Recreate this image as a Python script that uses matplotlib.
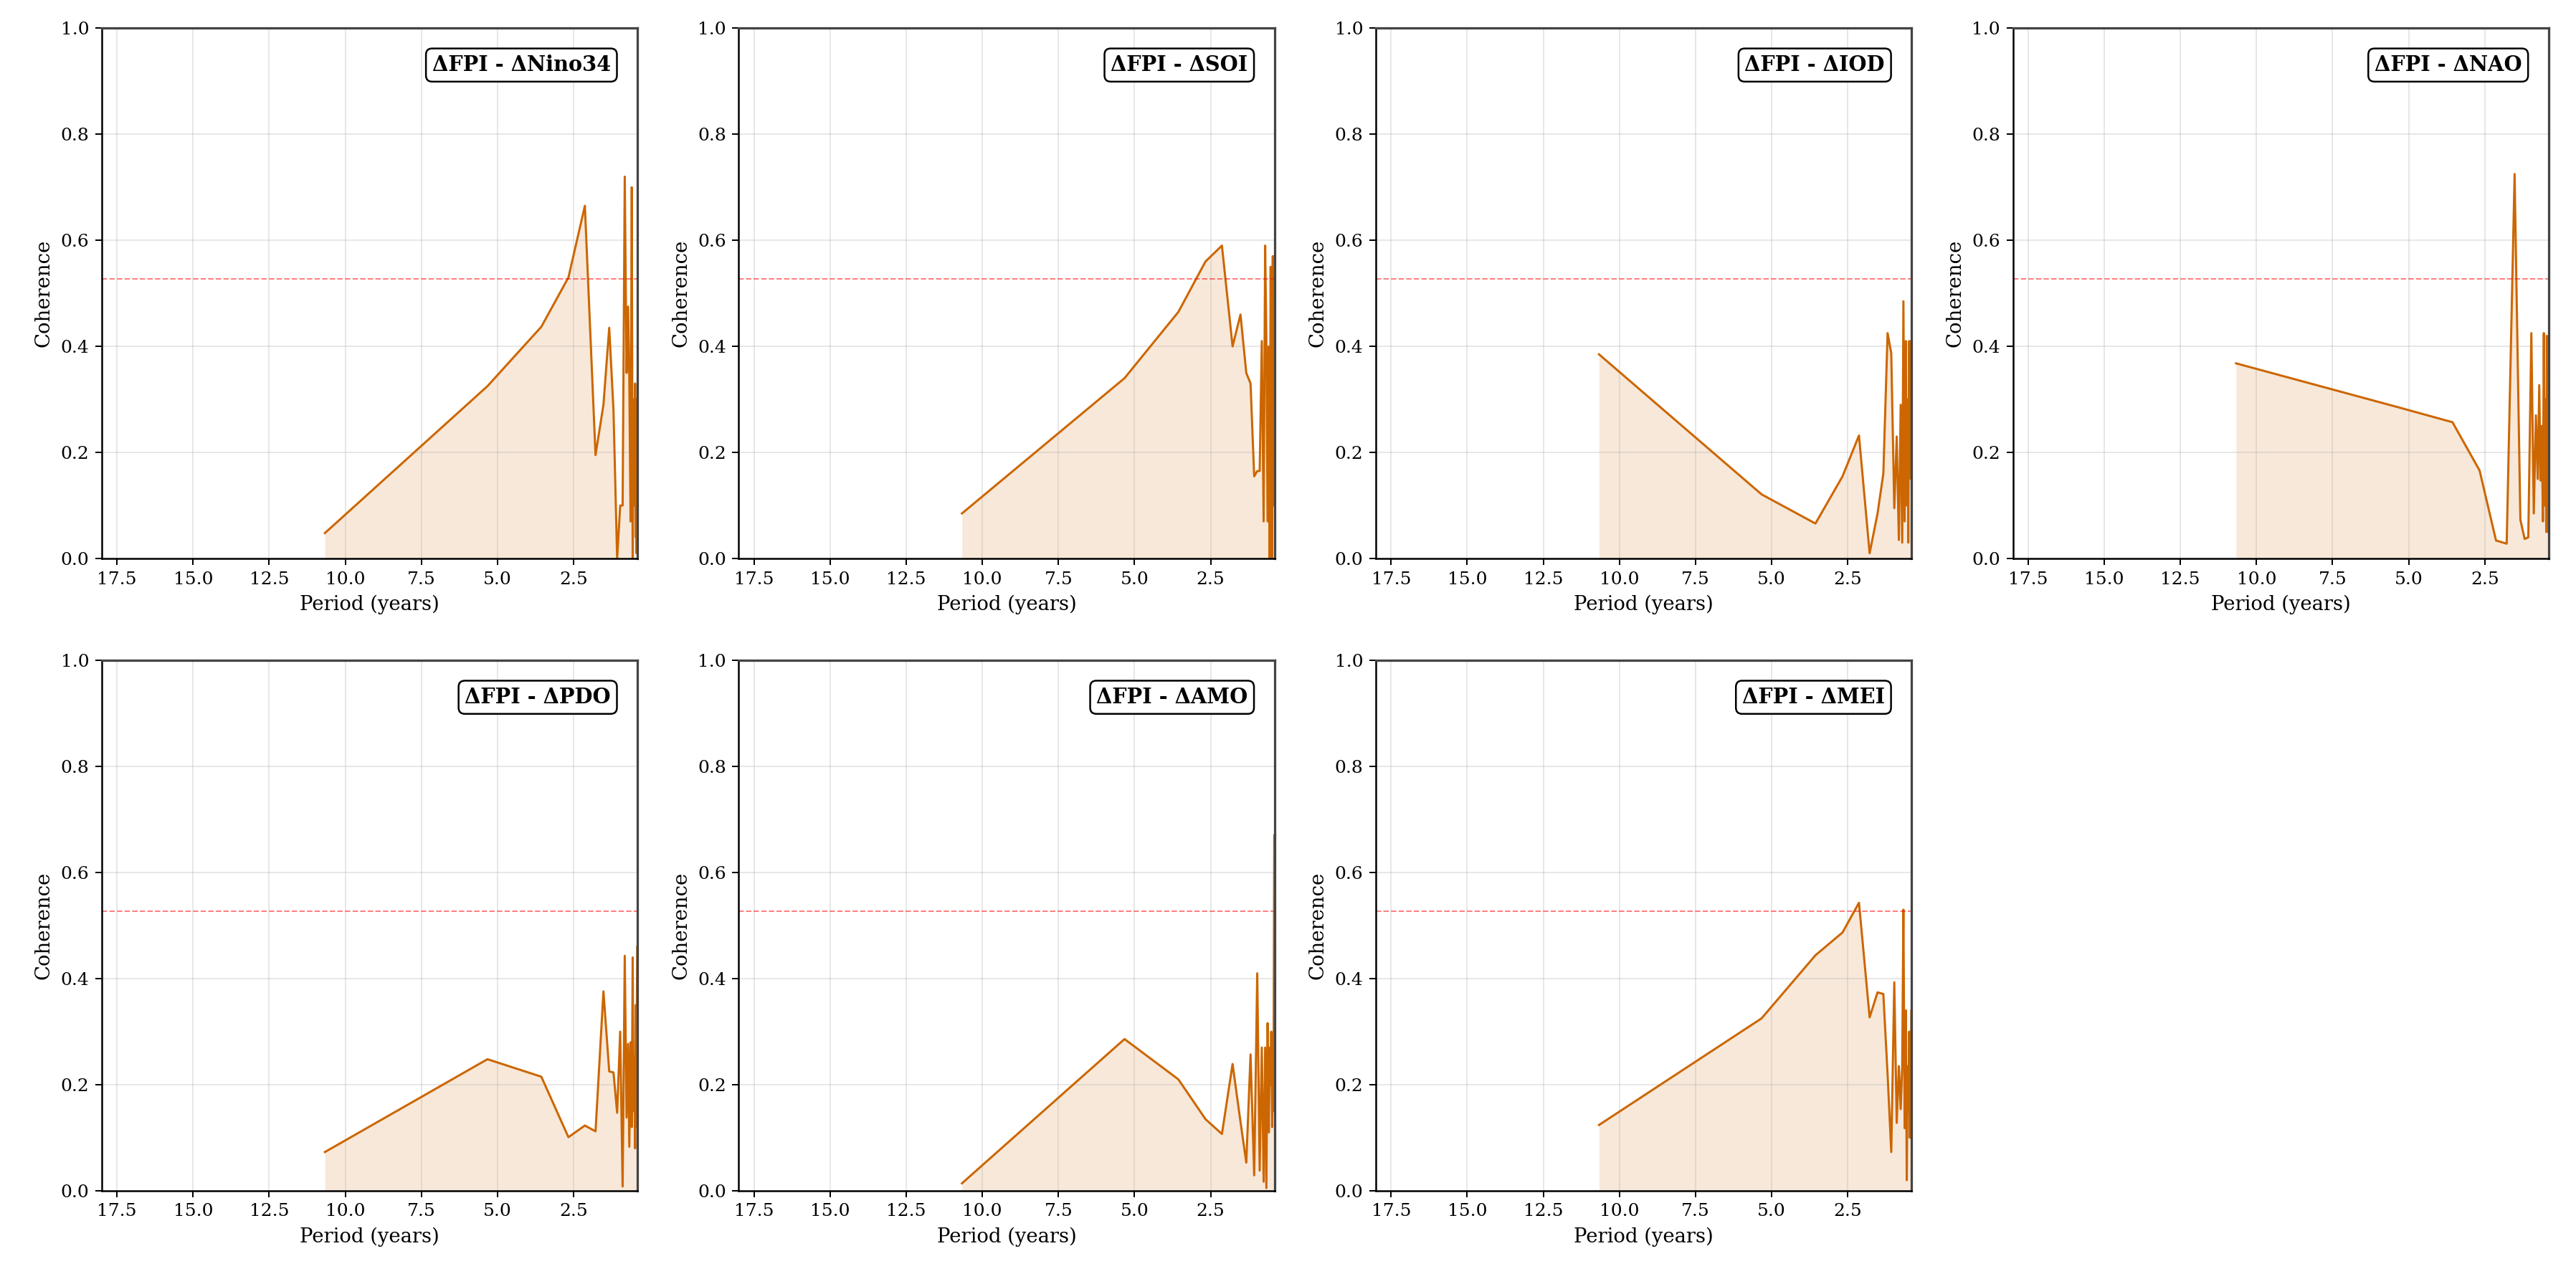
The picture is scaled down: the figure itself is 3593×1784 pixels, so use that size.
"""Coherence spectra between FPI changes and climate index changes."""

import matplotlib

matplotlib.use("Agg")
import matplotlib.pyplot as plt
from matplotlib.ticker import MultipleLocator

plt.rcParams["font.family"] = "DejaVu Serif"

# period of each frequency bin (years)
periods = [10.67, 5.33, 3.56, 2.67, 2.13, 1.78, 1.52, 1.33, 1.19, 1.07,
           0.97, 0.89, 0.82, 0.76, 0.71, 0.67, 0.63, 0.59, 0.56, 0.53,
           0.51, 0.48, 0.46, 0.44, 0.43, 0.41]

nino34 = [0.048, 0.325, 0.437, 0.53, 0.665, 0.195, 0.29, 0.435, 0.28, 0.0,
          0.10, 0.10, 0.72, 0.35, 0.475, 0.34, 0.07, 0.70, 0.0, 0.30,
          0.10, 0.33, 0.04, 0.30, 0.01, 0.30]
soi = [0.085, 0.34, 0.465, 0.56, 0.59, 0.40, 0.46, 0.35, 0.33, 0.155,
       0.165, 0.165, 0.41, 0.07, 0.59, 0.41, 0.07, 0.40, 0.0, 0.55,
       0.30, 0.0, 0.57, 0.10, 0.30, 0.57]
iod = [0.385, 0.121, 0.066, 0.155, 0.232, 0.01, 0.085, 0.16, 0.425, 0.387,
       0.095, 0.23, 0.035, 0.29, 0.03, 0.485, 0.07, 0.41, 0.10, 0.30,
       0.03, 0.41, 0.20, 0.38, 0.15, 0.41]
nao = [0.368, 0.285, 0.257, 0.166, 0.034, 0.028, 0.725, 0.073, 0.037, 0.04,
       0.425, 0.085, 0.27, 0.15, 0.327, 0.147, 0.25, 0.07, 0.425, 0.10,
       0.30, 0.05, 0.42, 0.12, 0.30, 0.05]
pdo = [0.073, 0.248, 0.215, 0.101, 0.123, 0.112, 0.376, 0.225, 0.223, 0.147,
       0.30, 0.008, 0.443, 0.138, 0.277, 0.083, 0.28, 0.12, 0.44, 0.15,
       0.25, 0.08, 0.35, 0.12, 0.28, 0.46]
amo = [0.014, 0.286, 0.21, 0.135, 0.107, 0.239, 0.13, 0.053, 0.257, 0.029,
       0.41, 0.038, 0.27, 0.017, 0.27, 0.005, 0.316, 0.11, 0.27, 0.20,
       0.30, 0.12, 0.25, 0.15, 0.30, 0.67]
mei = [0.124, 0.325, 0.444, 0.487, 0.543, 0.327, 0.374, 0.371, 0.22, 0.073,
       0.393, 0.128, 0.235, 0.154, 0.235, 0.53, 0.118, 0.34, 0.02, 0.235,
       0.15, 0.30, 0.10, 0.30, 0.12, 0.34]

titles = ["ΔFPI - ΔNino34", "ΔFPI - ΔSOI", "ΔFPI - ΔIOD", "ΔFPI - ΔNAO",
          "ΔFPI - ΔPDO", "ΔFPI - ΔAMO", "ΔFPI - ΔMEI"]
series = [nino34, soi, iod, nao, pdo, amo, mei]
threshold = 0.527

LINE_COLOR = "#cc6600"


def main() -> None:
    fig, axes = plt.subplots(2, 4, figsize=(3593 / 180, 1784 / 180), dpi=180)
    fig.subplots_adjust(left=0.0395, right=0.9894, bottom=0.069, top=0.978,
                        wspace=0.189, hspace=0.192)

    for ax, title, coh in zip(axes.flat, titles, series):
        ax.plot(periods, coh, color=LINE_COLOR, linewidth=1.2)
        ax.fill_between(periods, coh, color=LINE_COLOR, alpha=0.15, linewidth=0)
        ax.axhline(threshold, color="red", linestyle="--", linewidth=0.8, alpha=0.5)
        ax.set_xlim(18.0, 0.4)
        ax.set_ylim(0, 1)
        ax.xaxis.set_major_locator(MultipleLocator(2.5))
        ax.yaxis.set_major_locator(MultipleLocator(0.2))
        ax.grid(True, alpha=0.3)
        ax.set_xlabel("Period (years)", fontsize=11)
        ax.set_ylabel("Coherence", fontsize=11)
        ax.tick_params(labelsize=10)
        for side in ("left", "bottom"):
            ax.spines[side].set_linewidth(1.0)
        for side in ("top", "right"):
            ax.spines[side].set_color("#444444")
            ax.spines[side].set_linewidth(1.3)
        ax.text(0.95, 0.95, title, transform=ax.transAxes, ha="right", va="top",
                fontsize=11.5, fontweight="bold",
                bbox=dict(boxstyle="round,pad=0.3", facecolor="white",
                          edgecolor="black", linewidth=1.0))

    axes.flat[-1].axis("off")
    fig.savefig("out.png", dpi=180)


if __name__ == "__main__":
    main()
